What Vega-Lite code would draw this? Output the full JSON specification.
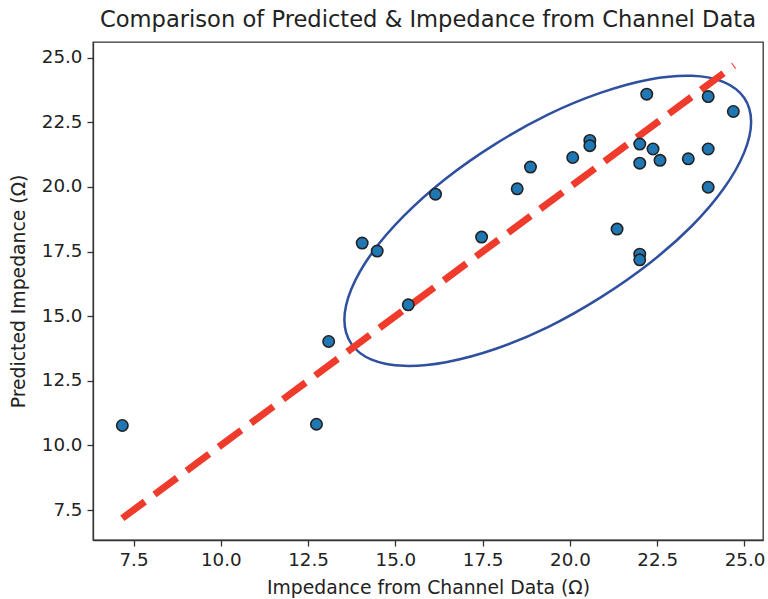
{
  "$schema": "https://vega.github.io/schema/vega-lite/v6.json",
  "width": 670,
  "height": 498,
  "autosize": {"type": "none"},
  "padding": {"left": 93, "top": 42, "right": 5, "bottom": 59},
  "background": "white",
  "config": {
    "view": {"stroke": "#333", "strokeWidth": 1.3},
    "font": "DejaVu Sans",
    "axis": {
      "grid": false,
      "domainColor": "#333",
      "domainWidth": 1.3,
      "tickColor": "#333",
      "tickWidth": 1.3,
      "tickSize": 6,
      "labelPadding": 5,
      "labelColor": "#222",
      "titleColor": "#222",
      "labelFont": "DejaVu Sans",
      "titleFont": "DejaVu Sans",
      "labelFontSize": 18.3,
      "titleFontSize": 18.8,
      "titleFontWeight": "normal",
      "labelFlush": false,
      "labelOverlap": false
    }
  },
  "title": {
    "text": "Comparison of Predicted & Impedance from Channel Data",
    "font": "DejaVu Sans",
    "fontSize": 22.6,
    "fontWeight": "normal",
    "color": "#222",
    "anchor": "middle",
    "offset": 10
  },
  "datasets": {
    "points": [
      {"actual": 14.05, "predicted": 17.83},
      {"actual": 14.48, "predicted": 17.52},
      {"actual": 22.2, "predicted": 23.59},
      {"actual": 23.96, "predicted": 23.5},
      {"actual": 24.68, "predicted": 22.92},
      {"actual": 20.57, "predicted": 21.8},
      {"actual": 20.57, "predicted": 21.6},
      {"actual": 22.0, "predicted": 21.66},
      {"actual": 22.38, "predicted": 21.47},
      {"actual": 23.96, "predicted": 21.47},
      {"actual": 20.08, "predicted": 21.14},
      {"actual": 22.0, "predicted": 20.92},
      {"actual": 22.58, "predicted": 21.03},
      {"actual": 23.39, "predicted": 21.09},
      {"actual": 18.87, "predicted": 20.77},
      {"actual": 23.96, "predicted": 19.99},
      {"actual": 16.15, "predicted": 19.72},
      {"actual": 18.49, "predicted": 19.93},
      {"actual": 17.47, "predicted": 18.06},
      {"actual": 21.35, "predicted": 18.37},
      {"actual": 22.0, "predicted": 17.4},
      {"actual": 22.0, "predicted": 17.18},
      {"actual": 15.37, "predicted": 15.44},
      {"actual": 13.09, "predicted": 14.02},
      {"actual": 7.18, "predicted": 10.77},
      {"actual": 12.74, "predicted": 10.82}
    ],
    "fitline": [
      {"actual": 7.18, "predicted": 7.18},
      {"actual": 24.7, "predicted": 24.7}
    ],
    "ellipse": [
      {"i": 0, "actual": 25.19, "predicted": 22.52},
      {"i": 1, "actual": 24.99, "predicted": 21.33},
      {"i": 2, "actual": 24.41, "predicted": 19.95},
      {"i": 3, "actual": 23.49, "predicted": 18.49},
      {"i": 4, "actual": 22.28, "predicted": 17.05},
      {"i": 5, "actual": 20.87, "predicted": 15.72},
      {"i": 6, "actual": 19.37, "predicted": 14.58},
      {"i": 7, "actual": 17.86, "predicted": 13.73},
      {"i": 8, "actual": 16.45, "predicted": 13.22},
      {"i": 9, "actual": 15.25, "predicted": 13.08},
      {"i": 10, "actual": 14.32, "predicted": 13.32},
      {"i": 11, "actual": 13.74, "predicted": 13.93},
      {"i": 12, "actual": 13.54, "predicted": 14.86},
      {"i": 13, "actual": 13.74, "predicted": 16.05},
      {"i": 14, "actual": 14.32, "predicted": 17.43},
      {"i": 15, "actual": 15.25, "predicted": 18.89},
      {"i": 16, "actual": 16.45, "predicted": 20.33},
      {"i": 17, "actual": 17.86, "predicted": 21.66},
      {"i": 18, "actual": 19.37, "predicted": 22.8},
      {"i": 19, "actual": 20.87, "predicted": 23.64},
      {"i": 20, "actual": 22.28, "predicted": 24.16},
      {"i": 21, "actual": 23.49, "predicted": 24.3},
      {"i": 22, "actual": 24.41, "predicted": 24.06},
      {"i": 23, "actual": 24.99, "predicted": 23.45}
    ]
  },
  "encoding": {
    "x": {
      "field": "actual",
      "type": "quantitative",
      "scale": {"domain": [6.34, 25.53], "nice": false, "zero": false},
      "axis": {
        "title": "Impedance from Channel Data (Ω)",
        "values": [7.5, 10, 12.5, 15, 17.5, 20, 22.5, 25],
        "format": ".1f",
        "titlePadding": 10
      }
    },
    "y": {
      "field": "predicted",
      "type": "quantitative",
      "scale": {"domain": [6.34, 25.61], "nice": false, "zero": false},
      "axis": {
        "title": "Predicted Impedance (Ω)",
        "values": [7.5, 10, 12.5, 15, 17.5, 20, 22.5, 25],
        "format": ".1f",
        "titlePadding": 13
      }
    }
  },
  "layer": [
    {
      "data": {"name": "ellipse"},
      "mark": {"type": "line", "interpolate": "cardinal-closed", "color": "#2f4f9f", "strokeWidth": 2.5},
      "encoding": {"order": {"field": "i", "type": "quantitative"}}
    },
    {
      "data": {"name": "fitline"},
      "mark": {"type": "line", "color": "#ef3b2c", "strokeWidth": 7, "strokeDash": [28, 12], "strokeCap": "butt"},
      "encoding": {}
    },
    {
      "data": {"name": "points"},
      "mark": {"type": "point", "filled": true, "shape": "circle", "size": 130, "color": "#1f77b4", "stroke": "#222", "strokeWidth": 1.6, "opacity": 1}
    }
  ]
}
